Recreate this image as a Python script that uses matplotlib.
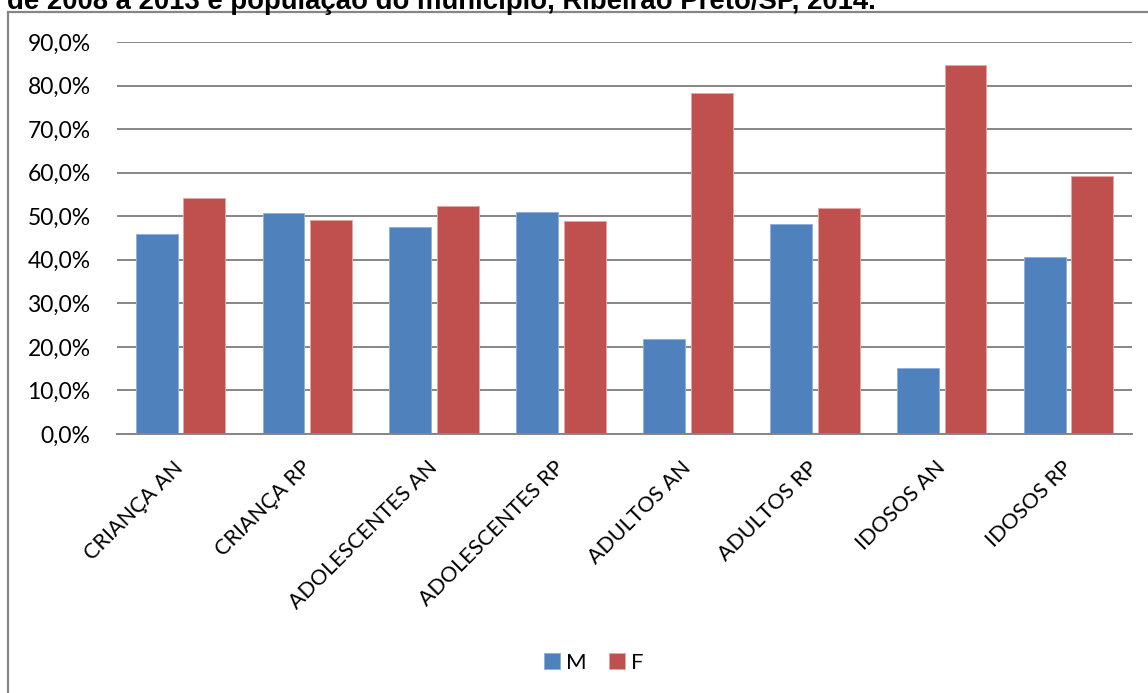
import matplotlib
matplotlib.use("Agg")
import matplotlib.pyplot as plt
from matplotlib.patches import Rectangle
from matplotlib.ticker import FuncFormatter
import numpy as np

categories = ["CRIANÇA AN", "CRIANÇA RP", "ADOLESCENTES AN", "ADOLESCENTES RP",
              "ADULTOS AN", "ADULTOS RP", "IDOSOS AN", "IDOSOS RP"]
male = [45.9, 50.8, 47.6, 51.0, 21.7, 48.1, 15.2, 40.7]
female = [54.1, 49.2, 52.4, 49.0, 78.3, 51.9, 84.8, 59.3]
series_labels = ["M", "F"]
y_ticks = [0, 10, 20, 30, 40, 50, 60, 70, 80, 90]
title_text = "de 2008 a 2013 e população do município, Ribeirão Preto/SP, 2014."

W, H = 1148, 693
fig = plt.figure(figsize=(W / 100, H / 100), dpi=100)
fig.patch.set_facecolor("white")

def fx(px):
    return px / W

def fy(py):
    return 1 - py / H

# caption line running off the top of the page
fig.text(fx(7), fy(9), title_text, fontsize=19.8, fontweight="bold",
         family="Liberation Sans", ha="left", va="baseline", color="black")

# chart frame (continues past the right and bottom edges)
frame = Rectangle((fx(7.5), fy(H + 20)), fx(W + 40), fy(12) - fy(H + 20),
                  transform=fig.transFigure, fill=False, edgecolor="#868686",
                  linewidth=1.6)
fig.add_artist(frame)

ax = fig.add_axes([fx(117), fy(434), fx(1132) - fx(117), fy(42) - fy(434)])

x = np.arange(len(categories))
bw = 0.33
gap = 0.045
blue = "#4F81BD"
red = "#C0504D"
ax.bar(x - (bw + gap) / 2, male, width=bw, color=blue, edgecolor="#8FB1DA",
       linewidth=0.7, label=series_labels[0], zorder=3)
ax.bar(x + (bw + gap) / 2, female, width=bw, color=red, edgecolor="#E5A6A5",
       linewidth=0.7, label=series_labels[1], zorder=3)

ax.set_xlim(-0.5, len(categories) - 0.5)
ax.set_ylim(0, 90)
ax.set_yticks(y_ticks)
ax.yaxis.set_major_formatter(FuncFormatter(lambda v, p: f"{v:.1f}%".replace(".", ",")))
ax.grid(axis="y", color="#868686", linewidth=1.4, zorder=0)
ax.set_axisbelow(True)

for side in ["left", "right", "top"]:
    ax.spines[side].set_visible(False)
ax.spines["bottom"].set_color("#868686")
ax.spines["bottom"].set_linewidth(1.4)
ax.spines["bottom"].set_zorder(4)

ax.tick_params(axis="y", length=0, pad=19, labelsize=16.5, labelcolor="black")
ax.tick_params(axis="x", length=0, pad=22, labelsize=15.5, labelcolor="black")
for lbl in ax.get_yticklabels():
    lbl.set_family("Lato")

ax.set_xticks(x)
ax.set_xticklabels(categories, rotation=45, ha="right", va="center",
                   rotation_mode="anchor", family="Lato")

leg = fig.legend(loc="center", bbox_to_anchor=(fx(594), fy(663)), ncol=2,
                 frameon=False, prop={"family": "Lato", "size": 16},
                 handlelength=0.7, handleheight=0.7, handletextpad=0.3,
                 columnspacing=1.0)

fig.savefig("out.png", dpi=100, facecolor="white")
